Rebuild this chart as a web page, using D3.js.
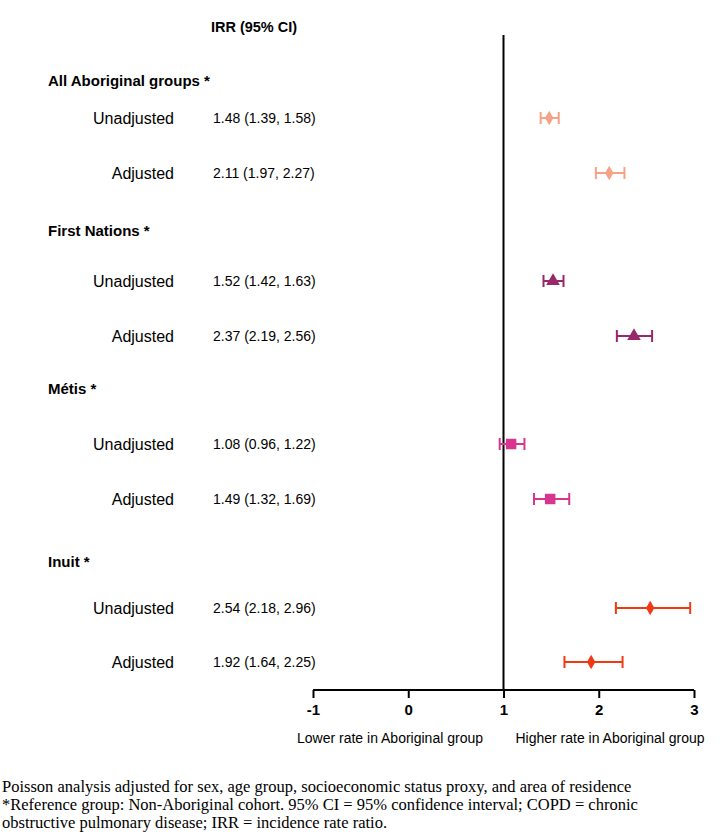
<!DOCTYPE html>
<html>
<head>
<meta charset="utf-8">
<script src="https://cdn.jsdelivr.net/npm/d3@7"></script>
<style>
  body { margin: 0; background: #fff; }
  svg text { font-family: "Liberation Sans", Arial, sans-serif; }
</style>
</head>
<body>
<svg id="chart" width="722" height="839"></svg>
<script>
// groups and rows
const groups = ['All Aboriginal groups *', 'First Nations *', 'Métis *', 'Inuit *'];
const rowLabels = ['Unadjusted', 'Adjusted'];
const estimates = [[1.48, 2.11], [1.52, 2.37], [1.08, 1.49], [2.54, 1.92]];
const lowers = [[1.39, 1.97], [1.42, 2.19], [0.96, 1.32], [2.18, 1.64]];
const uppers = [[1.58, 2.27], [1.63, 2.56], [1.22, 1.69], [2.96, 2.25]];
const colors = ['#f5a286', '#98286a', '#d7358f', '#ef3a14'];
const symbols = [d3.symbolDiamond, d3.symbolTriangle, d3.symbolSquare, d3.symbolDiamond];
const xTicks = [-1, 0, 1, 2, 3];
const footnotes = [
  'Poisson analysis adjusted for sex, age group, socioeconomic status proxy, and area of residence',
  '*Reference group: Non-Aboriginal cohort. 95% CI = 95% confidence interval; COPD = chronic',
  'obstructive pulmonary disease; IRR = incidence rate ratio.'
];

const svg = d3.select('#chart');

const x = d3.scaleLinear().domain([-1, 3]).range([313, 694]);

// vertical layout: header then two rows per group
const headerY = [81, 231, 389, 562];
const rowY = [[118, 173], [281, 336], [444, 499], [608, 662]];
const axisY = 690;

svg.append('text')
  .attr('x', 254).attr('y', 32)
  .attr('text-anchor', 'middle')
  .style('font-weight', 'bold').style('font-size', '14.5px')
  .text('IRR (95% CI)');

// reference line at 1
svg.append('line')
  .attr('x1', x(1)).attr('x2', x(1))
  .attr('y1', 35).attr('y2', axisY)
  .attr('stroke', '#000').attr('stroke-width', 2);

const rows = [];
groups.forEach((g, gi) => {
  rowLabels.forEach((r, ri) => {
    rows.push({
      group: gi, label: r, y: rowY[gi][ri],
      est: estimates[gi][ri], lo: lowers[gi][ri], hi: uppers[gi][ri]
    });
  });
});

svg.selectAll('text.group')
  .data(groups)
  .enter().append('text')
  .attr('class', 'group')
  .attr('x', 48).attr('y', (d, i) => headerY[i] + 5)
  .style('font-weight', 'bold').style('font-size', '15px')
  .text(d => d);

svg.selectAll('text.rowlabel')
  .data(rows)
  .enter().append('text')
  .attr('class', 'rowlabel')
  .attr('x', 174).attr('y', d => d.y + 6)
  .attr('text-anchor', 'end')
  .style('font-size', '16px')
  .text(d => d.label);

svg.selectAll('text.est')
  .data(rows)
  .enter().append('text')
  .attr('class', 'est')
  .attr('x', 213).attr('y', d => d.y + 5)
  .style('font-size', '14px')
  .text(d => `${d.est.toFixed(2)} (${d.lo.toFixed(2)}, ${d.hi.toFixed(2)})`);

const ci = svg.append('g').selectAll('g')
  .data(rows)
  .enter().append('g')
  .attr('stroke', d => colors[d.group])
  .attr('stroke-width', 2);

ci.append('line')
  .attr('x1', d => x(d.lo)).attr('x2', d => x(d.hi))
  .attr('y1', d => d.y).attr('y2', d => d.y);
ci.append('line')
  .attr('x1', d => x(d.lo)).attr('x2', d => x(d.lo))
  .attr('y1', d => d.y - 6).attr('y2', d => d.y + 6);
ci.append('line')
  .attr('x1', d => x(d.hi)).attr('x2', d => x(d.hi))
  .attr('y1', d => d.y - 6).attr('y2', d => d.y + 6);

svg.selectAll('path.marker')
  .data(rows)
  .enter().append('path')
  .attr('class', 'marker')
  .attr('transform', d => `translate(${x(d.est)},${d.y})`)
  .attr('d', d => d3.symbol().type(symbols[d.group]).size(d.group === 2 ? 110 : (d.group === 1 ? 80 : 60))())
  .attr('fill', d => colors[d.group]);

// x axis
const axis = svg.append('g')
  .attr('transform', `translate(0,${axisY})`)
  .call(d3.axisBottom(x).tickValues(xTicks).tickSize(8).tickPadding(6).tickFormat(d => String(d)));
axis.select('.domain').attr('stroke-width', 2).attr('d', `M${x(-1)},0H${x(3)}`);
axis.selectAll('.tick line').attr('stroke-width', 2);
axis.selectAll('.tick text')
  .style('font-size', '15px').style('font-weight', 'bold')
  .style('font-family', '"Liberation Sans", Arial, sans-serif');

svg.append('text')
  .attr('x', 390).attr('y', 743)
  .attr('text-anchor', 'middle').style('font-size', '14px')
  .text('Lower rate in Aboriginal group');
svg.append('text')
  .attr('x', 610).attr('y', 743)
  .attr('text-anchor', 'middle').style('font-size', '14px')
  .text('Higher rate in Aboriginal group');

svg.selectAll('text.foot')
  .data(footnotes)
  .enter().append('text')
  .attr('class', 'foot')
  .attr('x', 2).attr('y', (d, i) => 792 + i * 18)
  .style('font-family', '"Liberation Serif", "Times New Roman", serif')
  .style('font-size', '16.5px')
  .text(d => d);
</script>
</body>
</html>
